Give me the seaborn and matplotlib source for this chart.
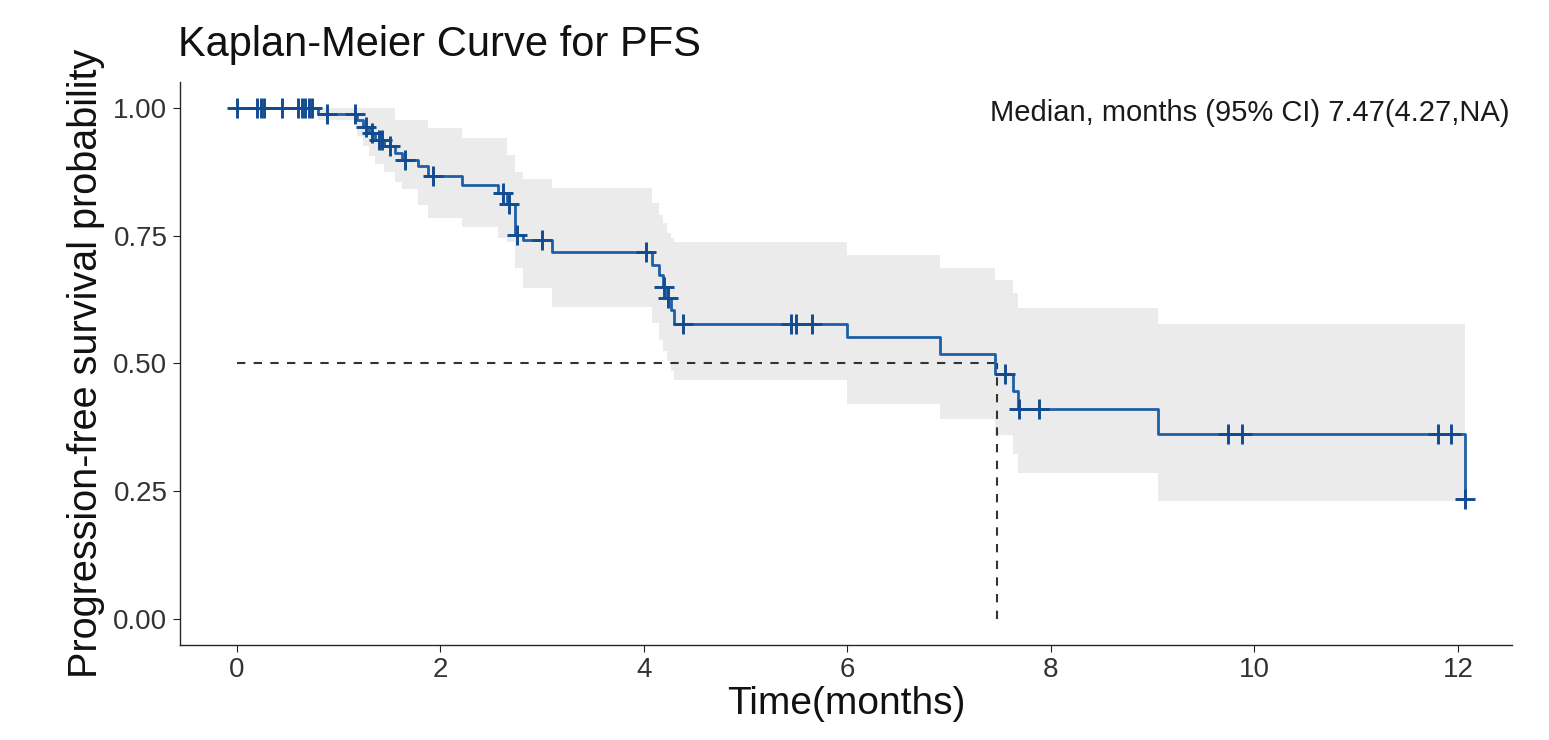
import matplotlib
matplotlib.use("Agg")
import matplotlib.pyplot as plt
import seaborn as sns

# Kaplan-Meier step curve (post steps)
STEP_TIME = [0.0, 0.80, 1.18, 1.24, 1.30, 1.36, 1.45, 1.55, 1.62, 1.78, 1.88, 2.21,
             2.57, 2.65, 2.73, 2.81, 3.10, 4.08, 4.15, 4.19, 4.23, 4.27, 4.30, 6.00,
             6.91, 7.45, 7.63, 7.68, 9.05, 12.07]
SURV = [1.0, 0.988, 0.976, 0.963, 0.950, 0.937, 0.924, 0.911, 0.898, 0.885, 0.866, 0.849,
        0.833, 0.812, 0.752, 0.741, 0.718, 0.692, 0.672, 0.649, 0.627, 0.604, 0.578, 0.551,
        0.519, 0.480, 0.447, 0.411, 0.362, 0.235]
CI_UPPER = [1.0, 1.0, 1.0, 1.0, 1.0, 1.0, 1.0, 0.976, 0.976, 0.976, 0.960, 0.940,
            0.940, 0.908, 0.875, 0.860, 0.843, 0.813, 0.790, 0.775, 0.755, 0.745, 0.737, 0.712,
            0.686, 0.663, 0.637, 0.608, 0.578, 0.578]
CI_LOWER = [1.0, 0.975, 0.945, 0.925, 0.905, 0.890, 0.875, 0.855, 0.840, 0.810, 0.784, 0.767,
            0.745, 0.737, 0.686, 0.647, 0.610, 0.580, 0.545, 0.525, 0.505, 0.485, 0.467, 0.420,
            0.392, 0.360, 0.323, 0.286, 0.231, 0.231]

# censored observations
CENSOR_TIME = [0.0, 0.20, 0.235, 0.27, 0.44, 0.60, 0.635, 0.67, 0.705, 0.74, 0.88, 1.16,
               1.27, 1.33, 1.40, 1.43, 1.50, 1.65, 1.93, 2.61, 2.67, 2.75, 3.00, 4.02,
               4.20, 4.24, 4.38, 5.45, 5.49, 5.65, 7.55, 7.69, 7.88, 9.74, 9.88, 11.80,
               11.93, 12.07]
CENSOR_SURV = [1.0, 1.0, 1.0, 1.0, 1.0, 1.0, 1.0, 1.0, 1.0, 1.0, 0.988, 0.988,
               0.963, 0.950, 0.937, 0.937, 0.924, 0.898, 0.866, 0.833, 0.812, 0.752, 0.741, 0.718,
               0.649, 0.627, 0.578, 0.578, 0.578, 0.578, 0.480, 0.411, 0.411, 0.362, 0.362, 0.362,
               0.362, 0.235]

MEDIAN = 7.47
LINE_COLOR = "#1F5FA6"
MARK_COLOR = "#114B92"

sns.set_style("ticks")
plt.rcParams.update({
    "font.family": ["Liberation Sans", "DejaVu Sans"],
    "axes.spines.top": False,
    "axes.spines.right": False,
    "axes.linewidth": 1.0,
    "xtick.major.size": 5,
    "ytick.major.size": 5,
})

fig = plt.figure(figsize=(15.49, 7.40), dpi=100)
ax = fig.add_axes([0.1162, 0.1284, 0.976 - 0.1162, 0.8892 - 0.1284])

ax.fill_between(STEP_TIME, CI_LOWER, CI_UPPER, step="post", color="#EBEBEB", linewidth=0, zorder=0)
sns.lineplot(x=STEP_TIME, y=SURV, drawstyle="steps-post", estimator=None, sort=False,
             color=LINE_COLOR, linewidth=2.0, ax=ax, zorder=3)
sns.scatterplot(x=CENSOR_TIME, y=CENSOR_SURV, marker="+", s=200, linewidth=2.1,
                color=MARK_COLOR, ax=ax, zorder=4)

# median guides
ax.plot([0, MEDIAN], [0.5, 0.5], ls=(0, (4, 4)), color="#333333", lw=1.5, zorder=2)
ax.plot([MEDIAN, MEDIAN], [0, 0.5], ls=(0, (4, 4)), color="#333333", lw=1.5, zorder=2)

ax.text(12.51, 0.99, "Median, months (95% CI) 7.47(4.27,NA)", ha="right", va="center",
        fontsize=21, color="#1a1a1a")

ax.set_xlim(-0.56, 12.53)
ax.set_ylim(-0.05, 1.05)
ax.set_xticks([0, 2, 4, 6, 8, 10, 12])
ax.set_yticks([0.0, 0.25, 0.5, 0.75, 1.0])
ax.set_yticklabels(["0.00", "0.25", "0.50", "0.75", "1.00"])
ax.tick_params(labelsize=20, colors="#222222", labelcolor="#333333", pad=4)
ax.set_xlabel("Time(months)", fontsize=28, labelpad=2, color="#111111")
ax.set_ylabel("Progression-free survival probability", fontsize=28.5, labelpad=6, color="#111111")

fig.text(178 / 1549, 1 - 45 / 740, "Kaplan-Meier Curve for PFS", fontsize=30,
         ha="left", va="center", color="#111111")

fig.savefig("out.png", dpi=100)
